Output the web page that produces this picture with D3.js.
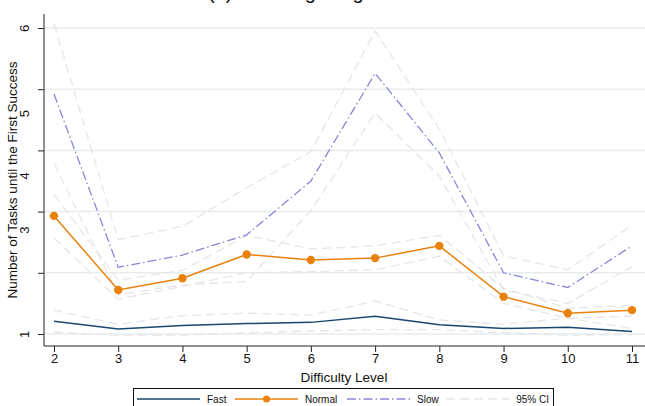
<!DOCTYPE html>
<html>
<head>
    <title>Tasks until First Success</title>
    <meta charset="UTF-8">
    <style>
        body {
            margin: 0;
            padding: 0;
            background-color: white;
            font-family: "Liberation Sans", Arial, sans-serif;
        }
        svg {
            display: block;
        }
        .grid line {
            stroke: #e6edf0;
            stroke-width: 1.5px;
        }
        .axis path, .axis line {
            stroke: #222;
            stroke-width: 1px;
        }
        .axis text {
            font-family: "Liberation Sans", Arial, sans-serif;
            font-size: 13px;
            fill: #111;
        }
        .ci {
            fill: none;
            stroke: #e6e6ea;
            stroke-width: 1.3px;
            stroke-dasharray: 9,5;
        }
    </style>
    <script src="https://d3js.org/d3.v7.min.js"></script>
</head>
<body>
    <div id="chart"></div>

    <script>
        // values
        var levels = [2, 3, 4, 5, 6, 7, 8, 9, 10, 11];

        var fast   = [1.21, 1.08, 1.14, 1.17, 1.19, 1.29, 1.15, 1.09, 1.11, 1.04];
        var fastHi = [1.39, 1.16, 1.30, 1.34, 1.31, 1.54, 1.23, 1.16, 1.26, 1.09];
        var fastLo = [1.03, 0.98, 0.98, 1.02, 1.05, 1.07, 1.07, 1.02, 0.98, 0.99];

        var normal   = [2.93, 1.72, 1.91, 2.30, 2.21, 2.24, 2.44, 1.61, 1.34, 1.39];
        var normalHi = [3.28, 1.88, 2.04, 2.61, 2.39, 2.44, 2.61, 1.75, 1.42, 1.47];
        var normalLo = [2.57, 1.57, 1.78, 2.00, 2.02, 2.05, 2.27, 1.50, 1.26, 1.29];

        var slow   = [4.92, 2.09, 2.29, 2.62, 3.50, 5.26, 3.96, 2.00, 1.76, 2.44];
        var slowHi = [6.07, 2.54, 2.76, 3.39, 3.98, 5.95, 4.35, 2.28, 2.05, 2.78];
        var slowLo = [3.79, 1.64, 1.80, 1.86, 3.02, 4.61, 3.58, 1.72, 1.50, 2.10];

        var yTicks = [1, 2, 3, 4, 5, 6];
        var legendLabels = ["Fast", "Normal", "Slow", "95% CI"];

        var colors = {fast: "#1a476f", normal: "#e8820c", slow: "#8b84d7"};

        var width = 645, height = 406;

        var x = d3.scaleLinear().domain([2, 11]).range([54, 632]);
        var y = d3.scaleLinear().domain([1, 6]).range([334, 28]);

        var svg = d3.select("#chart").append("svg")
            .attr("width", width)
            .attr("height", height);

        // panel title, cut off by the top edge like in the original
        svg.append("text")
            .attr("x", 208)
            .attr("y", -1)
            .style("font-size", "20px")
            .style("fill", "#111")
            .text("(a) Learning Progress");

        // gridlines
        svg.append("g").attr("class", "grid")
            .selectAll("line")
            .data(yTicks)
            .enter().append("line")
            .attr("x1", 45)
            .attr("x2", width)
            .attr("y1", function(d) { return y(d); })
            .attr("y2", function(d) { return y(d); });

        var line = d3.line()
            .x(function(d, i) { return x(levels[i]); })
            .y(function(d) { return y(d); });

        // confidence bands
        [fastHi, fastLo, normalHi, normalLo, slowHi, slowLo].forEach(function(s) {
            svg.append("path")
                .datum(s)
                .attr("class", "ci")
                .attr("d", line);
        });

        svg.append("path")
            .datum(fast)
            .attr("fill", "none")
            .attr("stroke", colors.fast)
            .attr("stroke-width", 1.5)
            .attr("d", line);

        svg.append("path")
            .datum(slow)
            .attr("fill", "none")
            .attr("stroke", colors.slow)
            .attr("stroke-width", 1.3)
            .attr("stroke-dasharray", "9,3,1.5,3")
            .attr("d", line);

        svg.append("path")
            .datum(normal)
            .attr("fill", "none")
            .attr("stroke", colors.normal)
            .attr("stroke-width", 1.5)
            .attr("d", line);

        svg.selectAll(".dot")
            .data(normal)
            .enter().append("circle")
            .attr("class", "dot")
            .attr("cx", function(d, i) { return x(levels[i]); })
            .attr("cy", function(d) { return y(d); })
            .attr("r", 4.2)
            .attr("fill", colors.normal);

        // axes
        var xAxis = svg.append("g")
            .attr("class", "axis")
            .attr("transform", "translate(0,346)")
            .call(d3.axisBottom(x).tickValues(levels).tickSize(6).tickSizeOuter(0));
        xAxis.select(".domain").attr("d", "M44,0H645");
        xAxis.selectAll(".tick text").attr("y", 8);

        var yAxis = svg.append("g")
            .attr("class", "axis")
            .attr("transform", "translate(44,0)")
            .call(d3.axisLeft(y).tickValues(yTicks).tickFormat(d3.format("d")).tickSize(6).tickSizeOuter(0));
        yAxis.select(".domain").attr("d", "M0,14V346");

        // label positions as drawn in the original (5,4,3 sit lower, 2 is hidden)
        var labelShift = {1: 0, 2: null, 3: 18, 4: 25, 5: 24, 6: 0};
        yAxis.selectAll(".tick text")
            .attr("x", null)
            .attr("dy", null)
            .attr("text-anchor", "middle")
            .attr("transform", function(d) {
                return "translate(-15," + (labelShift[d] || 0) + ") rotate(-90)";
            })
            .style("display", function(d) { return labelShift[d] === null ? "none" : null; });

        // axis titles
        svg.append("text")
            .attr("x", 344)
            .attr("y", 382)
            .attr("text-anchor", "middle")
            .style("font-size", "13.5px")
            .style("fill", "#111")
            .text("Difficulty Level");

        svg.append("text")
            .attr("transform", "translate(17,180) rotate(-90)")
            .attr("text-anchor", "middle")
            .style("font-size", "13.5px")
            .style("fill", "#111")
            .text("Number of Tasks until the First Success");

        // legend
        var legend = svg.append("g");
        legend.append("rect")
            .attr("x", 133.5)
            .attr("y", 388.5)
            .attr("width", 420)
            .attr("height", 30)
            .attr("fill", "white")
            .attr("stroke", "#111")
            .attr("stroke-width", 1);

        var legendItems = [
            {x: 137, stroke: colors.fast, dash: null, w: 1.5, dot: false},
            {x: 235, stroke: colors.normal, dash: null, w: 1.5, dot: true},
            {x: 347, stroke: colors.slow, dash: "9,3,1.5,3", w: 1.3, dot: false},
            {x: 446, stroke: "#e6e6ea", dash: "9,5", w: 1.3, dot: false}
        ];

        legendItems.forEach(function(it, i) {
            legend.append("line")
                .attr("x1", it.x)
                .attr("x2", it.x + 63)
                .attr("y1", 399)
                .attr("y2", 399)
                .attr("stroke", it.stroke)
                .attr("stroke-width", it.w)
                .attr("stroke-dasharray", it.dash);
            if (it.dot) {
                legend.append("circle")
                    .attr("cx", it.x + 31.5)
                    .attr("cy", 399)
                    .attr("r", 3.5)
                    .attr("fill", it.stroke);
            }
            legend.append("text")
                .attr("x", i === 3 ? 549 : it.x + 70)
                .attr("y", 402.5)
                .attr("text-anchor", i === 3 ? "end" : "start")
                .style("font-size", "10px")
                .style("fill", "#111")
                .text(legendLabels[i]);
        });
    </script>
</body>
</html>
